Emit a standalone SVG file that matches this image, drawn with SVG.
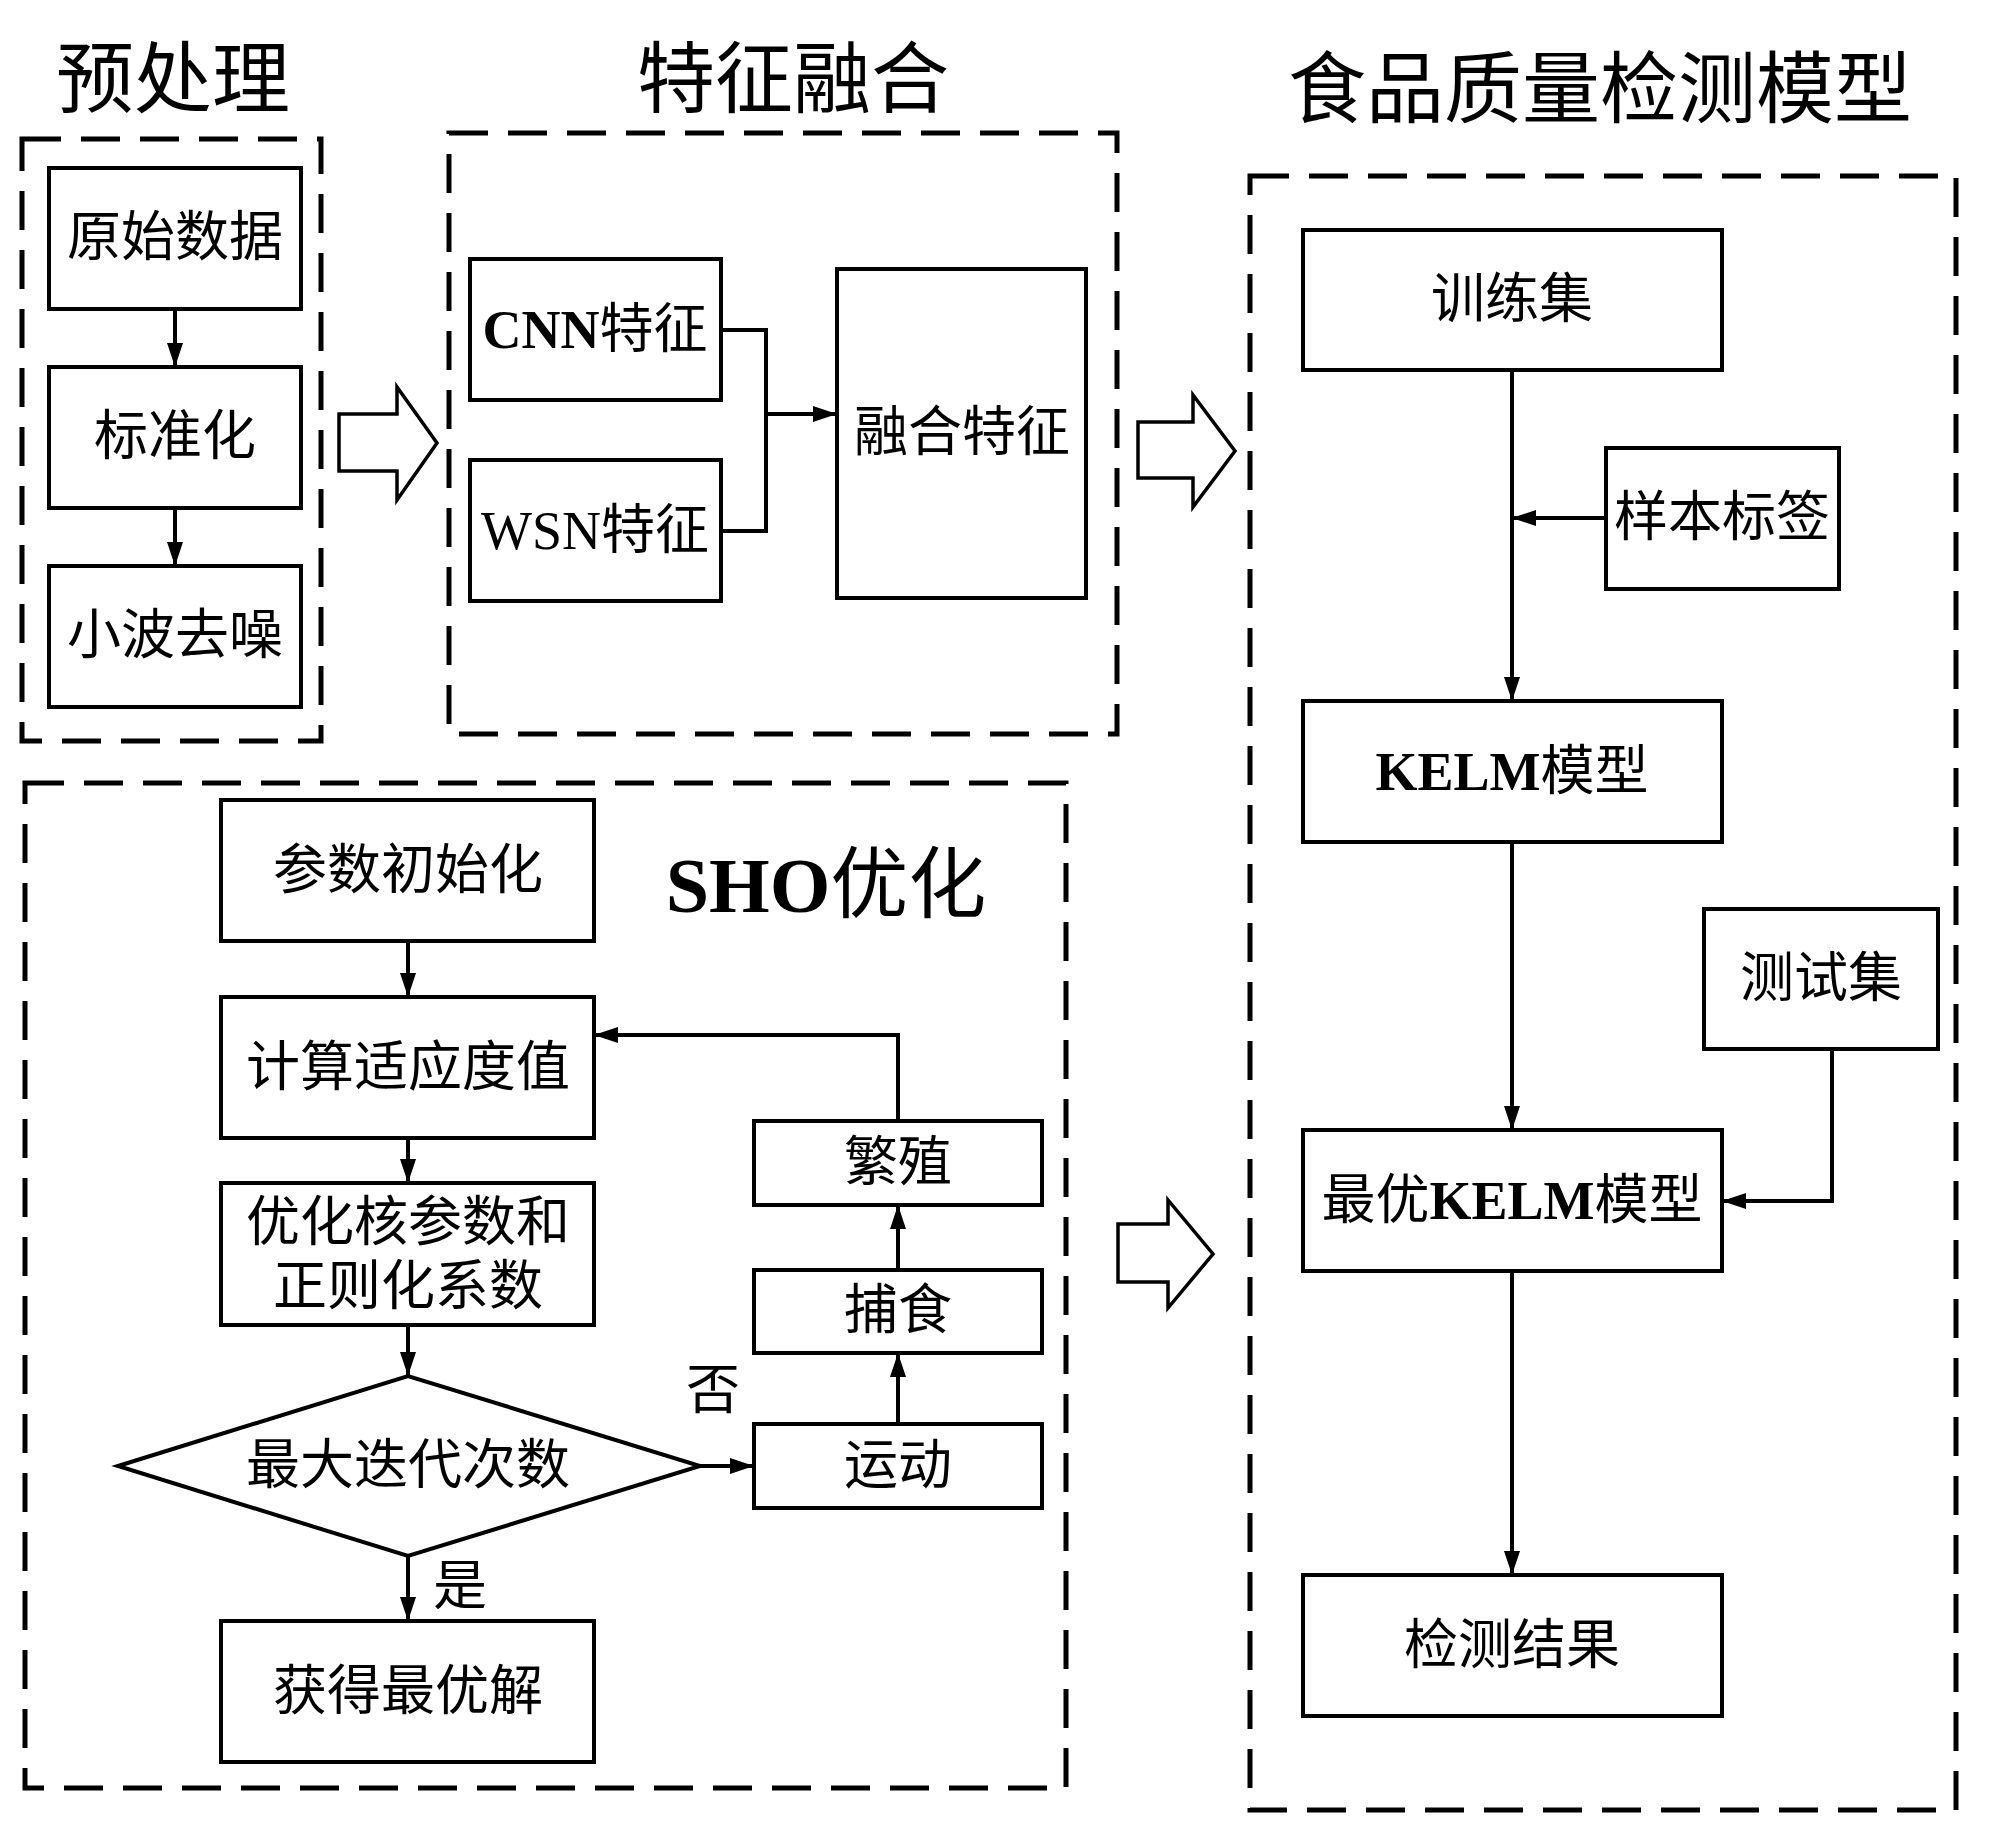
<svg xmlns="http://www.w3.org/2000/svg" width="2000" height="1827" viewBox="0 0 2000 1827">
<style>
.bg{fill:#fff}
.box{fill:#fff;stroke:#000;stroke-width:4}
.dash{fill:none;stroke:#000;stroke-width:5;stroke-dasharray:39 20}
.big{fill:#fff;stroke:#000;stroke-width:3.5;stroke-linejoin:miter}
.t{font-family:"Liberation Serif","Noto Sans CJK SC",serif;font-size:54px;fill:#000;text-anchor:middle;dominant-baseline:central}
.title{font-family:"Liberation Serif","Noto Sans CJK SC",serif;font-size:78px;fill:#000;text-anchor:middle;dominant-baseline:central}
.b{font-weight:bold}
.ln{fill:none;stroke:#000;stroke-width:4}
.ar{fill:none;stroke:#000;stroke-width:4;marker-end:url(#ah)}
</style>
<defs>
<marker id="ah" viewBox="0 0 24 16" refX="24" refY="8" markerWidth="24" markerHeight="16" markerUnits="userSpaceOnUse" orient="auto">
<path d="M0,0 L24,8 L0,16 z" fill="#000"/>
</marker>
</defs>
<rect class="bg" x="0" y="0" width="2000" height="1827"/>

<g id="titles">
<text class="title" x="173" y="80">预处理</text>
<text class="title" x="793" y="80">特征融合</text>
<text class="title" x="1600" y="90">食品质量检测模型</text>
</g>

<g id="groups">
<rect id="grp-pre" class="dash" x="22" y="139" width="299" height="602"/>
<rect id="grp-fuse" class="dash" x="449" y="133" width="668" height="601"/>
<rect id="grp-model" class="dash" x="1250" y="176" width="706" height="1634"/>
<rect id="grp-sho" class="dash" x="25" y="783" width="1041" height="1005"/>
</g>

<g id="block-arrows">
<polygon class="big" points="339,414 397,414 397,387 437,443 397,500 397,471 339,471"/>
<polygon class="big" points="1138,422 1193,422 1193,395 1235,451 1193,507 1193,478 1138,478"/>
<polygon class="big" points="1118,1224 1168,1224 1168,1200 1213,1254 1168,1308 1168,1282 1118,1282"/>
</g>

<g id="n-raw"><rect class="box" x="49" y="168" width="252" height="141"/><text class="t" x="175" y="238">原始数据</text></g>
<g id="n-std"><rect class="box" x="49" y="367" width="252" height="141"/><text class="t" x="175" y="437">标准化</text></g>
<g id="n-wav"><rect class="box" x="49" y="566" width="252" height="141"/><text class="t" x="175" y="636">小波去噪</text></g>

<g id="n-cnn"><rect class="box" x="470" y="259" width="251" height="141"/><text class="t" x="595" y="330"><tspan class="b">CNN</tspan>特征</text></g>
<g id="n-wsn"><rect class="box" x="470" y="460" width="251" height="141"/><text class="t" x="595" y="531">WSN特征</text></g>
<g id="n-fused"><rect class="box" x="837" y="269" width="249" height="329"/><text class="t" x="962" y="433">融合特征</text></g>

<g id="n-train"><rect class="box" x="1303" y="230" width="419" height="140"/><text class="t" x="1512" y="300">训练集</text></g>
<g id="n-label"><rect class="box" x="1606" y="448" width="233" height="141"/><text class="t" x="1722" y="518">样本标签</text></g>
<g id="n-kelm"><rect class="box" x="1303" y="701" width="419" height="141"/><text class="t" x="1512" y="772"><tspan class="b">KELM</tspan>模型</text></g>
<g id="n-test"><rect class="box" x="1704" y="909" width="234" height="140"/><text class="t" x="1821" y="979">测试集</text></g>
<g id="n-best"><rect class="box" x="1303" y="1130" width="419" height="141"/><text class="t" x="1512" y="1201">最优<tspan class="b">KELM</tspan>模型</text></g>
<g id="n-result"><rect class="box" x="1303" y="1575" width="419" height="141"/><text class="t" x="1512" y="1646">检测结果</text></g>

<g id="n-sho-title"><text class="title" x="826" y="885"><tspan class="b">SHO</tspan>优化</text></g>
<g id="n-init"><rect class="box" x="221" y="800" width="373" height="141"/><text class="t" x="408" y="871">参数初始化</text></g>
<g id="n-fit"><rect class="box" x="221" y="997" width="373" height="141"/><text class="t" x="408" y="1068">计算适应度值</text></g>
<g id="n-opt"><rect class="box" x="221" y="1183" width="373" height="142"/><text class="t" x="408" y="1223">优化核参数和</text><text class="t" x="408" y="1287">正则化系数</text></g>
<g id="n-iter"><polygon class="box" points="118,1466 408,1376 700,1466 408,1556"/><text class="t" x="408" y="1466">最大迭代次数</text></g>
<g id="n-sol"><rect class="box" x="221" y="1621" width="373" height="141"/><text class="t" x="408" y="1692">获得最优解</text></g>
<g id="n-breed"><rect class="box" x="754" y="1121" width="288" height="84"/><text class="t" x="898" y="1163">繁殖</text></g>
<g id="n-hunt"><rect class="box" x="754" y="1270" width="288" height="83"/><text class="t" x="898" y="1311">捕食</text></g>
<g id="n-move"><rect class="box" x="754" y="1424" width="288" height="84"/><text class="t" x="898" y="1466">运动</text></g>

<g id="connectors">
<line class="ar" x1="175" y1="309" x2="175" y2="367"/>
<line class="ar" x1="175" y1="508" x2="175" y2="566"/>
<polyline class="ln" points="721,330 766,330 766,531 721,531"/>
<line class="ar" x1="766" y1="414" x2="837" y2="414"/>
<line class="ar" x1="1512" y1="370" x2="1512" y2="701"/>
<line class="ar" x1="1606" y1="518" x2="1512" y2="518"/>
<line class="ar" x1="1512" y1="842" x2="1512" y2="1130"/>
<polyline class="ar" points="1832,1049 1832,1201 1722,1201"/>
<line class="ar" x1="1512" y1="1271" x2="1512" y2="1575"/>
<line class="ar" x1="408" y1="941" x2="408" y2="997"/>
<line class="ar" x1="408" y1="1138" x2="408" y2="1183"/>
<line class="ar" x1="408" y1="1325" x2="408" y2="1376"/>
<line class="ar" x1="408" y1="1556" x2="408" y2="1621"/>
<line class="ar" x1="700" y1="1466" x2="754" y2="1466"/>
<line class="ar" x1="898" y1="1424" x2="898" y2="1353"/>
<line class="ar" x1="898" y1="1270" x2="898" y2="1205"/>
<polyline class="ar" points="898,1121 898,1035 594,1035"/>
<text class="t" x="713" y="1391">否</text>
<text class="t" x="460" y="1587">是</text>
</g>
</svg>
